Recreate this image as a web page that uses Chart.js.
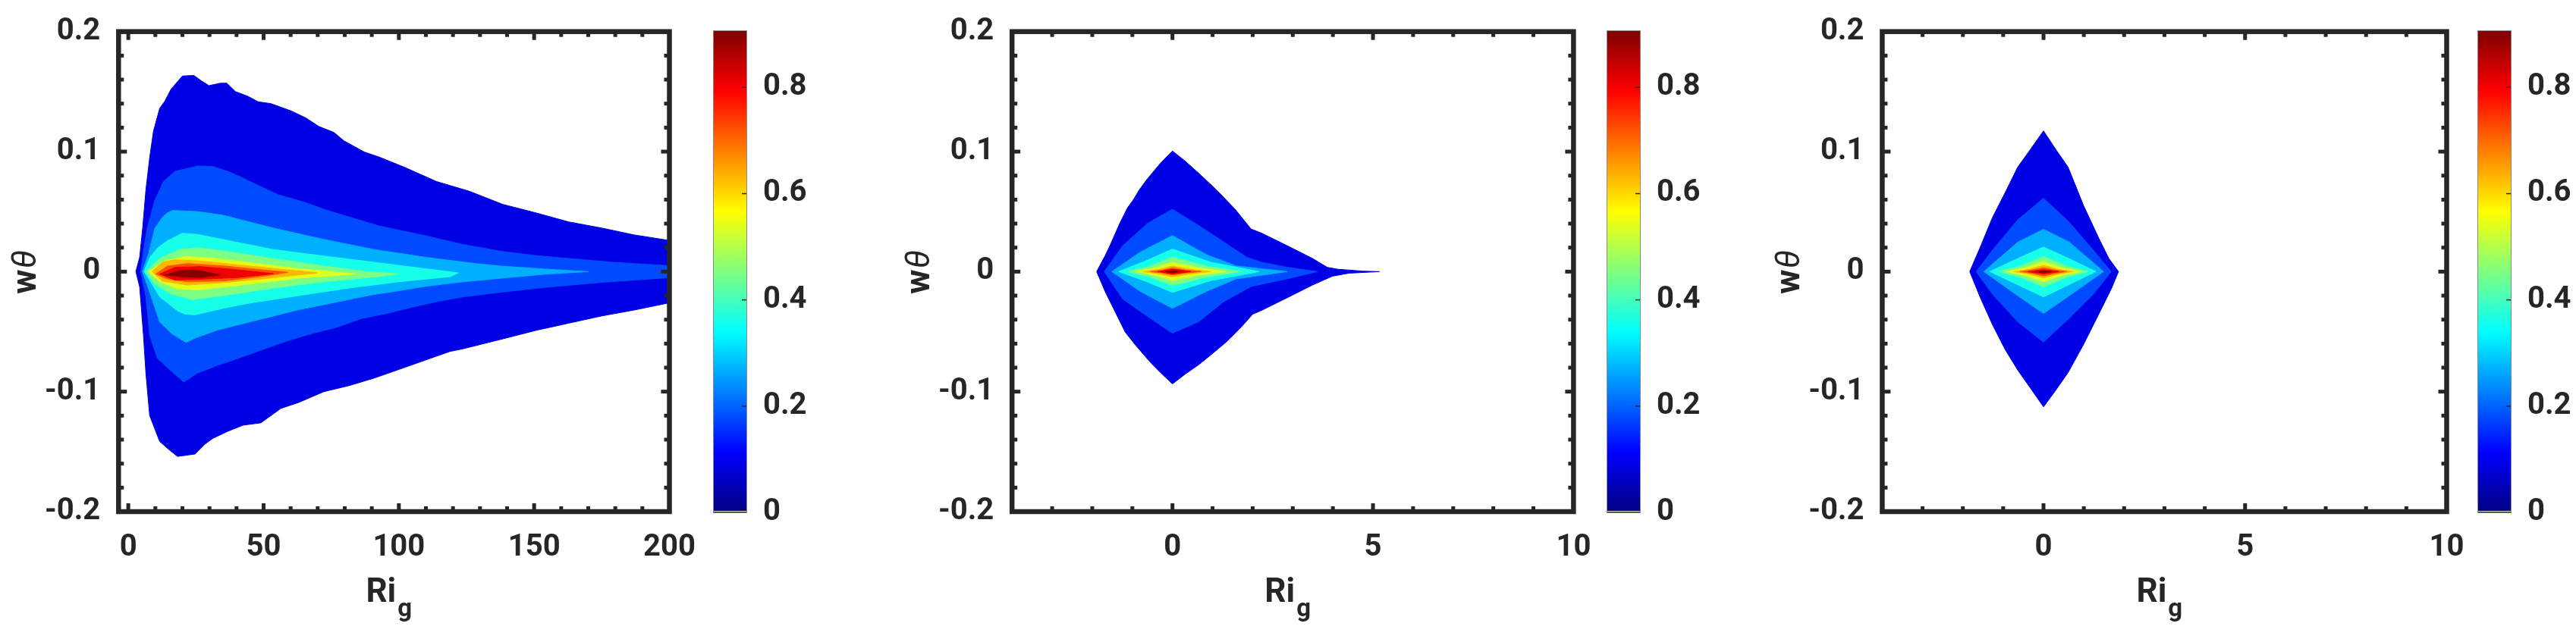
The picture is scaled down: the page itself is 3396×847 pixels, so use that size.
<!DOCTYPE html>
<html>
<head>
<meta charset="utf-8">
<script src="https://cdn.jsdelivr.net/npm/chart.js@4.4.1/dist/chart.umd.min.js"></script>
<style>
html,body{margin:0;padding:0;background:#ffffff;}
body{width:3396px;height:847px;position:relative;overflow:hidden;}
canvas{position:absolute;top:0;}
</style>
</head>
<body>
<canvas id="p1" width="930" height="847" style="left:0px;width:930px;height:847px"></canvas>
<canvas id="c1" width="203" height="847" style="left:931px;width:203px;height:847px"></canvas>
<canvas id="p2" width="930" height="847" style="left:1180px;width:930px;height:847px"></canvas>
<canvas id="c2" width="203" height="847" style="left:2108.5px;width:203px;height:847px"></canvas>
<canvas id="p3" width="930" height="847" style="left:2330px;width:930px;height:847px"></canvas>
<canvas id="c3" width="203" height="847" style="left:3257px;width:203px;height:847px"></canvas>
<script>
// ================= DATA =================
// contour level values (colour of each filled band) and colour-bar range
const contourLevels = [0.09, 0.18, 0.27, 0.36, 0.45, 0.54, 0.63, 0.72, 0.81, 0.90];
const colorbarMax = 0.906;
const colorbarTicks = [0, 0.2, 0.4, 0.6, 0.8];
const colorbarTickLabels = ['0', '0.2', '0.4', '0.6', '0.8'];

const yTicks = [-0.2, -0.1, 0, 0.1, 0.2];
const yTickLabels = ['-0.2', '-0.1', '0', '0.1', '0.2'];

const p1XTicks = [0, 50, 100, 150, 200];
const p1XTickLabels = ['0', '50', '100', '150', '200'];
const p23XTicks = [0, 5, 10];
const p23XTickLabels = ['0', '5', '10'];

// Panel 1 : upper / lower boundary of each contour level, [Ri_g, w theta]
const p1Upper = [
  [[2.8,0],[4.2,0.012],[5.3,0.036],[6.5,0.068],[7.9,0.095],[9.3,0.117],[11.6,0.136],[13.5,0.142],[15.8,0.152],[20,0.163],[24.2,0.1635],[27,0.159],[29.8,0.155],[34,0.157],[36.4,0.157],[39.6,0.150],[44.3,0.146],[48,0.1415],[52.7,0.140],[60.1,0.134],[65.7,0.128],[70.4,0.121],[76,0.116],[79.7,0.109],[87.2,0.0997],[92.8,0.0954],[102,0.087],[114,0.075],[126,0.067],[138.5,0.056],[150.6,0.049],[162.7,0.0415],[174.8,0.0364],[187,0.0306],[200,0.026]],
  [[4.6,0],[5.8,0.02],[7.0,0.036],[9.8,0.0596],[11.6,0.068],[13,0.075],[17.2,0.0835],[25.6,0.088],[31.2,0.0877],[36.8,0.0835],[41.5,0.079],[48,0.0718],[55.5,0.064],[64.8,0.058],[74.1,0.0506],[83.5,0.0443],[92.8,0.038],[109.6,0.030],[123,0.023],[137.6,0.017],[150,0.0135],[162.7,0.011],[178.8,0.0078],[200,0.005]],
  [[5.2,0],[7.5,0.015],[9.8,0.036],[12.5,0.045],[14.4,0.049],[16.5,0.051],[25.6,0.050],[35,0.047],[44.3,0.0416],[53.6,0.0363],[72.3,0.0268],[90.9,0.0184],[109.6,0.012],[128.3,0.0067],[137.6,0.0046],[155,0.002],[170,0]],
  [[5.8,0],[8,0.012],[11,0.02],[14.4,0.0257],[20,0.032],[25.6,0.031],[35,0.0268],[53.6,0.0184],[72.3,0.013],[90.9,0.0078],[109.6,0.0025],[122,-0.001]],
  [[6.5,0],[11.6,0.011],[19.1,0.0184],[25.6,0.0198],[35,0.0173],[53.6,0.011],[72.3,0.0046],[88,0],[100,-0.002]],
  [[7.4,0],[13.5,0.0089],[21,0.0127],[30.3,0.0114],[44.3,0.0078],[63,0.0025],[84,-0.002]],
  [[8.8,0],[12.6,0.0078],[17.2,0.0099],[26.6,0.0089],[40.6,0.0057],[54.5,0.0025],[70,-0.001]],
  [[10.2,-0.002],[14.4,0.0046],[21.9,0.0067],[35.9,0.0046],[59,-0.0006]],
  [[11.6,-0.002],[17.2,0.0035],[26.6,0.0042],[40.6,0.0015],[53.6,-0.0017]],
  [[13.5,-0.0028],[19.1,0.0008],[24.7,0.0015],[31.2,-0.0013],[34,-0.0028]]
];
const p1Lower = [
  [[2.8,0],[4.2,-0.0127],[5.6,-0.053],[6.5,-0.0845],[7.9,-0.120],[11.6,-0.1415],[15.4,-0.149],[18.2,-0.154],[24.7,-0.152],[28.4,-0.1436],[31.2,-0.139],[36.8,-0.133],[42.4,-0.128],[49,-0.126],[56.4,-0.114],[63,-0.109],[72.3,-0.100],[81.6,-0.095],[90.9,-0.0887],[100.3,-0.0813],[109.6,-0.0739],[118.9,-0.0665],[123.6,-0.0644],[138.5,-0.056],[150.6,-0.049],[162.7,-0.043],[174.8,-0.037],[187,-0.032],[200,-0.026]],
  [[4.6,0],[6.5,-0.021],[7.9,-0.053],[10.7,-0.072],[15.4,-0.082],[20.5,-0.092],[25.6,-0.0845],[33.1,-0.078],[39.6,-0.073],[49,-0.0655],[58.3,-0.058],[67.6,-0.0518],[76.9,-0.0465],[86.3,-0.039],[95.6,-0.0349],[104.9,-0.0296],[114.3,-0.0249],[123.6,-0.0211],[138.5,-0.017],[154.6,-0.013],[174.8,-0.009],[200,-0.005]],
  [[5.2,0],[7.9,-0.017],[11.6,-0.042],[16.3,-0.052],[21.4,-0.059],[24.7,-0.0553],[33.1,-0.0486],[44.3,-0.0422],[53.6,-0.037],[63,-0.0317],[72.3,-0.0275],[81.6,-0.0232],[90.9,-0.019],[100.3,-0.0158],[109.6,-0.0123],[123.6,-0.0085],[140,-0.005],[155,-0.002],[170,0]],
  [[5.8,0],[7,-0.004],[11.6,-0.021],[18.2,-0.0327],[21,-0.0355],[24.7,-0.036],[35,-0.0306],[44.3,-0.0264],[63,-0.020],[81.6,-0.0137],[100.3,-0.0084],[119,-0.0042],[122,-0.001]],
  [[6.5,0],[9.8,-0.0106],[16.3,-0.019],[23.8,-0.0232],[35,-0.020],[53.6,-0.0137],[72.3,-0.0084],[93,-0.004],[100,-0.002]],
  [[7.4,0],[11.6,-0.0085],[18.2,-0.0144],[25.6,-0.0152],[44.3,-0.0106],[63,-0.0055],[84,-0.002]],
  [[8.8,0],[12.6,-0.008],[21.9,-0.0112],[35.9,-0.0091],[49.9,-0.006],[70,-0.001]],
  [[10.2,-0.002],[14.4,-0.006],[21.9,-0.0085],[35.9,-0.0076],[49.9,-0.0038],[59,-0.0006]],
  [[11.6,-0.002],[17.2,-0.007],[26.6,-0.0063],[40.6,-0.0049],[53.6,-0.0017]],
  [[13.5,-0.0028],[19.1,-0.0042],[26.6,-0.0049],[34,-0.0028]]
];

// Panel 2
const p2Upper = [
  [[-1.89,0],[-1.68,0.0132],[-1.56,0.0216],[-1.31,0.0405],[-1.12,0.0532],[-0.98,0.0596],[-0.83,0.068],[-0.64,0.0767],[-0.30,0.0903],[0,0.1005],[0.32,0.092],[0.72,0.080],[1.13,0.067],[1.56,0.052],[1.96,0.0355],[2.22,0.0321],[2.86,0.0216],[3.49,0.011],[3.86,0.0036],[4.12,0.002],[4.75,0.0004],[5.16,0]],
  [[-1.70,0],[-1.24,0.0216],[-0.61,0.0405],[0,0.052],[0.65,0.0385],[1.28,0.0247],[1.85,0.012],[2.22,0.0078],[2.86,0.0036],[3.61,0]],
  [[-1.51,0],[-0.80,0.0163],[0,0.030],[0.84,0.0142],[1.59,0.0047],[2.86,0]],
  [[-1.34,0],[-0.67,0.0089],[0,0.0188],[0.96,0.0078],[2.16,0]],
  [[-1.12,0],[-0.56,0.0045],[0,0.012],[0.86,0.0045],[1.72,0]],
  [[-0.93,0],[-0.46,0.003],[0,0.0078],[0.67,0.003],[1.34,0]],
  [[-0.74,0],[-0.37,0.0018],[0,0.0047],[0.48,0.0018],[0.96,0]],
  [[-0.55,0],[-0.27,0.0012],[0,0.0032],[0.35,0.0012],[0.71,0]],
  [[-0.36,0],[0,0.002],[0.46,0]],
  [[-0.17,0],[0,0.001],[0.18,0]]
];
const p2Lower = [
  [[-1.89,0],[-1.68,-0.0165],[-1.43,-0.0334],[-1.18,-0.0503],[-0.93,-0.0609],[-0.55,-0.0756],[-0.30,-0.0841],[0,-0.0936],[0.33,-0.0851],[0.65,-0.0777],[0.96,-0.0693],[1.34,-0.0587],[1.72,-0.046],[2.0,-0.0355],[2.22,-0.0323],[2.86,-0.0218],[3.49,-0.0112],[3.99,-0.0038],[4.4,-0.0013],[5.16,0]],
  [[-1.70,0],[-1.24,-0.0228],[-0.61,-0.0376],[0,-0.0513],[0.65,-0.0418],[1.28,-0.025],[1.97,-0.0123],[2.86,-0.006],[3.61,0]],
  [[-1.51,0],[-0.80,-0.0165],[0,-0.0306],[0.84,-0.0165],[1.59,-0.006],[2.86,0]],
  [[-1.34,0],[-0.67,-0.008],[0,-0.0173],[0.96,-0.0075],[2.16,0]],
  [[-1.12,0],[-0.56,-0.0044],[0,-0.0116],[0.86,-0.0044],[1.72,0]],
  [[-0.93,0],[-0.46,-0.0028],[0,-0.0074],[0.67,-0.0028],[1.34,0]],
  [[-0.74,0],[-0.37,-0.0017],[0,-0.0044],[0.48,-0.0017],[0.96,0]],
  [[-0.55,0],[-0.27,-0.001],[0,-0.0027],[0.35,-0.001],[0.71,0]],
  [[-0.36,0],[0,-0.002],[0.46,0]],
  [[-0.17,0],[0,-0.001],[0.18,0]]
];

// Panel 3
const p3Upper = [
  [[-1.83,0],[-1.58,0.0195],[-1.27,0.0448],[-0.95,0.0659],[-0.64,0.087],[-0.3,0.103],[0,0.1173],[0.3,0.102],[0.61,0.087],[0.99,0.0553],[1.37,0.0279],[1.62,0.011],[1.86,0]],
  [[-1.67,0],[-1.27,0.0177],[-0.64,0.0431],[0,0.0611],[0.61,0.0422],[1.24,0.0177],[1.68,0]],
  [[-1.48,0],[-0.64,0.0245],[0,0.0353],[0.64,0.0245],[1.49,0]],
  [[-1.33,0],[-0.66,0.0106],[0,0.0205],[0.65,0.0106],[1.30,0]],
  [[-1.11,0],[-0.55,0.0048],[0,0.0127],[0.55,0.0048],[1.11,0]],
  [[-0.92,0],[-0.46,0.0032],[0,0.0084],[0.46,0.0032],[0.93,0]],
  [[-0.73,0],[-0.36,0.002],[0,0.0053],[0.37,0.002],[0.74,0]],
  [[-0.58,0],[-0.29,0.0013],[0,0.0033],[0.29,0.0013],[0.58,0]],
  [[-0.39,0],[0,0.0017],[0.39,0]],
  [[-0.20,0],[0,0.0006],[0.21,0]]
];
const p3Lower = [
  [[-1.83,0],[-1.58,-0.0207],[-1.27,-0.0439],[-0.95,-0.065],[-0.64,-0.082],[-0.33,-0.0968],[0,-0.1127],[0.30,-0.099],[0.61,-0.0841],[0.99,-0.0609],[1.37,-0.0355],[1.68,-0.0144],[1.86,0]],
  [[-1.67,0],[-1.27,-0.0186],[-0.64,-0.0418],[0,-0.0587],[0.61,-0.0397],[1.24,-0.0186],[1.68,0]],
  [[-1.48,0],[-0.64,-0.020],[0,-0.0349],[0.64,-0.020],[1.49,0]],
  [[-1.33,0],[-0.66,-0.0106],[0,-0.0211],[0.65,-0.0106],[1.30,0]],
  [[-1.11,0],[-0.55,-0.0048],[0,-0.0127],[0.55,-0.0048],[1.11,0]],
  [[-0.92,0],[-0.46,-0.0032],[0,-0.0084],[0.46,-0.0032],[0.93,0]],
  [[-0.73,0],[-0.36,-0.002],[0,-0.0053],[0.37,-0.002],[0.74,0]],
  [[-0.58,0],[-0.29,-0.0014],[0,-0.0036],[0.29,-0.0014],[0.58,0]],
  [[-0.39,0],[0,-0.002],[0.39,0]],
  [[-0.20,0],[0,-0.001],[0.21,0]]
];

// ================= STYLE / RENDERING =================
const INK = '#262626';
const FONT = 'Roboto, "Liberation Sans", "DejaVu Sans", sans-serif';
const tickFont = {family: FONT, size: 40, weight: 'bold'};
const PLOT_TOP = 41.7;
const PLOT_BOTTOM = 675;

function clamp01(v){ return Math.max(0, Math.min(1, v)); }
function jet(t){
  const r = clamp01(Math.min(4*t - 1.5, -4*t + 4.5));
  const g = clamp01(Math.min(4*t - 0.5, -4*t + 3.5));
  const b = clamp01(Math.min(4*t + 0.5, -4*t + 2.5));
  return 'rgb(' + Math.round(r*255) + ',' + Math.round(g*255) + ',' + Math.round(b*255) + ')';
}
function bandColor(k){ return jet(contourLevels[k] / colorbarMax); }

const framePlugin = {
  id: 'frame',
  afterDraw(chart, args, o) {
    const ctx = chart.ctx, a = chart.chartArea;
    const xs = chart.scales.x, ys = chart.scales.y;
    ctx.save();
    ctx.fillStyle = INK;
    const tw = 5, majL = 11, minL = 7;
    // x ticks (bottom and top)
    for (let i = Math.ceil(xs.min / o.xMinorStep - 1e-9); i * o.xMinorStep <= xs.max + 1e-9; i++) {
      const v = i * o.xMinorStep;
      const px = xs.getPixelForValue(v);
      if (px < a.left + 4 || px > a.right - 4) continue;
      const major = o.xMajor.some(m => Math.abs(m - v) < 1e-9);
      const L = major ? majL : minL;
      ctx.fillRect(px - tw / 2, a.bottom - L, tw, L);
      ctx.fillRect(px - tw / 2, a.top, tw, L);
    }
    // y ticks (left and right)
    for (let i = Math.ceil(ys.min / o.yMinorStep - 1e-9); i * o.yMinorStep <= ys.max + 1e-9; i++) {
      const v = i * o.yMinorStep;
      const py = ys.getPixelForValue(v);
      if (py < a.top + 4 || py > a.bottom - 4) continue;
      const major = yTicks.some(m => Math.abs(m - v) < 1e-9);
      const L = major ? majL : minL;
      ctx.fillRect(a.left, py - tw / 2, L, tw);
      ctx.fillRect(a.right - L, py - tw / 2, L, tw);
    }
    // box
    ctx.strokeStyle = INK;
    ctx.lineWidth = 6.5;
    ctx.lineJoin = 'miter';
    ctx.strokeRect(a.left, a.top, a.right - a.left, a.bottom - a.top);
    // x title: Ri with subscript g
    ctx.textBaseline = 'alphabetic';
    ctx.textAlign = 'left';
    ctx.font = 'bold 44px ' + FONT;
    const wRi = ctx.measureText('Ri').width;
    const sx = (a.left + a.right) / 2 - 37;
    ctx.fillText('Ri', sx, 794);
    ctx.font = 'bold 33px ' + FONT;
    ctx.fillText('g', sx + wRi + 2, 813);
    // y title: w theta (rotated)
    ctx.translate(a.left - 109.6, (a.top + a.bottom) / 2 + 1);
    ctx.rotate(-Math.PI / 2);
    ctx.font = 'bold 44px ' + FONT;
    const ww = ctx.measureText('w').width;
    ctx.font = 'italic 44px ' + FONT;
    const wt = ctx.measureText('\u03B8').width;
    const x0 = -(ww + wt) / 2;
    ctx.font = 'bold 44px ' + FONT;
    ctx.fillText('w', x0, 0);
    ctx.font = 'italic 44px ' + FONT;
    ctx.fillText('\u03B8', x0 + ww + 1, 0);
    ctx.restore();
  }
};

function makePanel(id, upper, lower, xMin, xMax, xTickVals, xTickLabels, xMinorStep, padLeft, padRight) {
  const datasets = upper.map((u, k) => ({
    data: u.concat(lower[k].slice().reverse()).map(p => ({x: p[0], y: p[1]})),
    showLine: true,
    fill: 'shape',
    backgroundColor: bandColor(k),
    borderColor: bandColor(k),
    borderWidth: 1,
    pointRadius: 0,
    pointHoverRadius: 0,
    tension: 0,
    order: upper.length - k
  }));
  return new Chart(document.getElementById(id), {
    type: 'scatter',
    data: {datasets},
    options: {
      responsive: false,
      animation: false,
      events: [],
      devicePixelRatio: 1,
      layout: {padding: {left: padLeft, right: padRight, top: PLOT_TOP, bottom: 847 - PLOT_BOTTOM - 100}},
      plugins: {
        legend: {display: false},
        tooltip: {enabled: false},
        frame: {xMajor: xTickVals, xMinorStep: xMinorStep, yMinorStep: 0.02}
      },
      scales: {
        x: {
          type: 'linear', min: xMin, max: xMax,
          grid: {display: false}, border: {display: false},
          afterBuildTicks: s => { s.ticks = xTickVals.map(v => ({value: v})); },
          afterFit: s => { s.height = 100; s.paddingLeft = 0; s.paddingRight = 0; },
          ticks: {
            autoSkip: false, maxRotation: 0, minRotation: 0, padding: 16,
            color: INK, font: tickFont,
            callback: (v, i) => xTickLabels[i]
          }
        },
        y: {
          type: 'linear', min: -0.2, max: 0.2,
          grid: {display: false}, border: {display: false},
          afterBuildTicks: s => { s.ticks = yTicks.map(v => ({value: v})); },
          afterFit: s => { s.width = 140; s.paddingTop = 0; s.paddingBottom = 0; },
          ticks: {
            autoSkip: false, padding: 16,
            color: INK, font: tickFont,
            callback: (v, i) => yTickLabels[i]
          }
        }
      }
    },
    plugins: [framePlugin]
  });
}

const cbPlugin = {
  id: 'cbframe',
  afterDraw(chart) {
    const ctx = chart.ctx, a = chart.chartArea, ys = chart.scales.y;
    ctx.save();
    ctx.fillStyle = '#ffffff';
    ctx.fillRect(a.left, a.bottom - 2, a.right - a.left, 1);
    ctx.fillStyle = INK;
    colorbarTicks.forEach(v => {
      if (v <= 0) return;
      const py = ys.getPixelForValue(v);
      ctx.fillRect(a.right - 6, py - 0.75, 6, 1.5);
    });
    ctx.strokeStyle = '#8a8a8a';
    ctx.lineWidth = 1;
    ctx.strokeRect(a.left - 0.5, a.top - 0.5, a.right - a.left + 1, a.bottom - a.top + 1);
    ctx.restore();
  }
};

function jetGradient(chart) {
  const a = chart.chartArea;
  if (!a) return jet(0.5);
  const g = chart.ctx.createLinearGradient(0, a.bottom, 0, a.top);
  for (let i = 0; i <= 64; i++) { const t = i / 64; g.addColorStop(t, jet(t)); }
  return g;
}

function makeColorbar(id) {
  return new Chart(document.getElementById(id), {
    type: 'bar',
    data: {
      labels: [''],
      datasets: [{
        data: [colorbarMax],
        backgroundColor: ctx => jetGradient(ctx.chart),
        borderWidth: 0,
        barPercentage: 1,
        categoryPercentage: 1,
        inflateAmount: 0
      }]
    },
    options: {
      responsive: false,
      animation: false,
      events: [],
      devicePixelRatio: 1,
      layout: {padding: {left: 10, right: 0, top: 41, bottom: 847 - 676}},
      plugins: {legend: {display: false}, tooltip: {enabled: false}},
      scales: {
        x: {display: false},
        y: {
          position: 'right', min: 0, max: colorbarMax,
          grid: {display: false}, border: {display: false},
          afterBuildTicks: s => { s.ticks = colorbarTicks.map(v => ({value: v})); },
          afterFit: s => { s.width = 150; s.paddingTop = 0; s.paddingBottom = 0; },
          ticks: {
            autoSkip: false, padding: 14, color: INK, font: tickFont,
            callback: (v, i) => colorbarTickLabels[i]
          }
        }
      }
    },
    plugins: [cbPlugin]
  });
}

makePanel('p1', p1Upper, p1Lower, -3.6, 200, p1XTicks, p1XTickLabels, 10, 16.3, 47.5);
makePanel('p2', p2Upper, p2Lower, -4, 10, p23XTicks, p23XTickLabels, 1, 14.2, 35.6);
makePanel('p3', p3Upper, p3Lower, -4, 10, p23XTicks, p23XTickLabels, 1, 11.4, 34.5);
makeColorbar('c1');
makeColorbar('c2');
makeColorbar('c3');
</script>
</body>
</html>
